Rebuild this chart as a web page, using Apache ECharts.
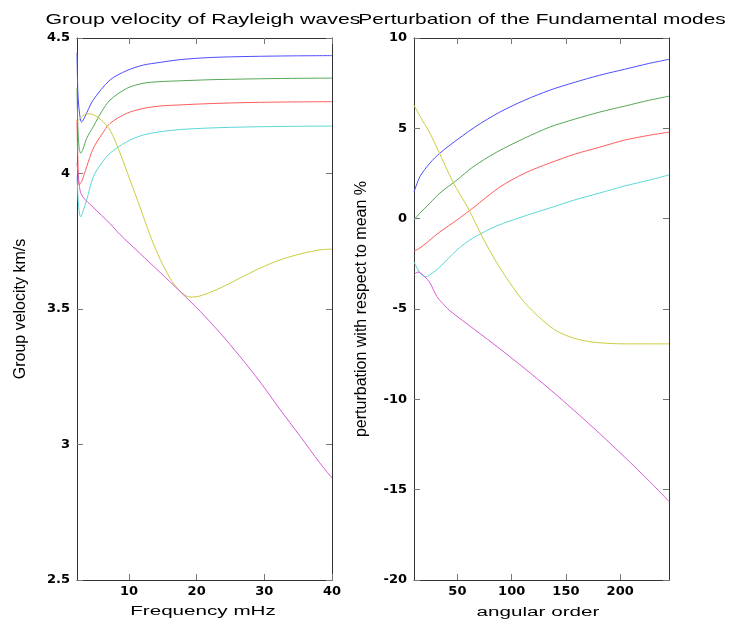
<!DOCTYPE html>
<html>
<head>
<meta charset="utf-8">
<script src="https://cdn.jsdelivr.net/npm/echarts@6/dist/echarts.min.js"></script>
<style>html,body{margin:0;padding:0;background:#fff}#c{width:730px;height:624px}</style>
</head>
<body>
<div id="c"></div>
<script>
// ---------- data ----------
const leftTitle = 'Group velocity of Rayleigh waves';
const rightTitle = 'Perturbation of the Fundamental modes';
const leftXName = 'Frequency mHz';
const leftYName = 'Group velocity km/s';
const rightXName = 'angular order';
const rightYName = 'perturbation with respect to mean %';

const leftXTicks = [10, 20, 30, 40];
const rightXTicks = [50, 100, 150, 200];

// Left panel: [frequency mHz, group velocity km/s]
const gvBlue = [[2.32,4.445],[2.45,4.30],[2.7,4.22],[3.0,4.19],[3.5,4.21],[4.68,4.27],[7.2,4.345],[9.7,4.38],[12.1,4.40],[14.6,4.41],[17.5,4.42],[22,4.428],[28,4.432],[34,4.434],[40,4.435]];
const gvGreen = [[2.32,4.315],[2.45,4.17],[2.65,4.09],[2.87,4.075],[3.2,4.09],[3.75,4.13],[4.73,4.173],[6,4.23],[7.2,4.271],[9.66,4.314],[12.1,4.333],[14.6,4.339],[17.5,4.342],[22,4.346],[28,4.349],[34,4.351],[40,4.352]];
const gvRed = [[2.32,4.197],[2.45,4.05],[2.66,3.958],[3.0,3.97],[3.75,4.025],[4.73,4.093],[6,4.145],[7.2,4.185],[9.66,4.222],[12.1,4.24],[14.6,4.249],[17.5,4.253],[22,4.258],[28,4.262],[34,4.264],[40,4.265]];
const gvCyan = [[2.32,3.99],[2.5,3.90],[2.7,3.85],[2.87,3.84],[3.2,3.86],[3.75,3.902],[4.73,3.988],[6,4.04],[7.2,4.075],[9.66,4.117],[12.1,4.142],[14.6,4.154],[17.5,4.162],[22,4.168],[28,4.172],[34,4.174],[40,4.175]];
const gvYellow = [[2.32,4.19],[3.35,4.216],[4.24,4.22],[5.72,4.201],[7.2,4.16],[8.67,4.076],[10.15,3.976],[11.63,3.876],[13.1,3.773],[14.6,3.684],[16.06,3.614],[17.54,3.566],[19.02,3.544],[20.5,3.548],[23.45,3.577],[26.4,3.614],[29.4,3.651],[32.3,3.681],[35.3,3.703],[38.2,3.718],[40,3.721]];
const gvMagenta = [[2.32,4.04],[2.76,3.939],[3.21,3.913],[4.68,3.876],[7.2,3.815],[8.67,3.775],[11.63,3.705],[14.6,3.635],[17.54,3.565],[20.5,3.492],[23.45,3.412],[26.4,3.325],[29.4,3.23],[32.3,3.13],[35.3,3.03],[38.2,2.932],[40,2.876]];

// Right panel: [angular order, perturbation %]
const ptBlue = [[10,1.47],[15.5,2.33],[24.7,3.08],[33.9,3.63],[43.1,4.07],[66.1,5.07],[89.1,5.90],[112.1,6.56],[135.1,7.11],[158.2,7.55],[181.2,7.94],[204.2,8.27],[227.2,8.60],[245,8.82]];
const ptGreen = [[10,-0.07],[15.5,0.31],[24.7,0.86],[33.9,1.42],[49.6,2.14],[64.3,2.86],[86.4,3.69],[112.1,4.46],[135.1,5.07],[158.2,5.51],[181.2,5.90],[204.2,6.23],[227.2,6.56],[245,6.78]];
const ptRed = [[10,-1.8],[15.5,-1.62],[24.7,-1.18],[33.9,-0.73],[49.6,-0.07],[64.3,0.59],[89.1,1.75],[112.1,2.52],[135.1,3.08],[158.2,3.57],[181.2,3.96],[204.2,4.35],[227.2,4.62],[245,4.79]];
const ptCyan = [[10,-2.39],[15.5,-3.00],[20.1,-3.22],[24.7,-3.11],[33.9,-2.67],[49.6,-1.73],[64.3,-1.07],[86.4,-0.40],[112.1,0.15],[135.1,0.59],[158.2,1.04],[181.2,1.42],[204.2,1.81],[227.2,2.14],[245,2.42]];
const ptYellow = [[10,6.28],[15.5,5.67],[24.7,4.73],[32.1,3.80],[45.9,2.03],[59.7,0.59],[73.5,-1.07],[86.4,-2.45],[98.3,-3.55],[112.1,-4.66],[126,-5.49],[139.7,-6.15],[153.6,-6.54],[167.4,-6.76],[181.2,-6.87],[204.2,-6.93],[227.2,-6.93],[245,-6.93]];
const ptMagenta = [[10,-3.11],[13.7,-2.95],[20.1,-3.22],[24.7,-3.55],[31.2,-4.32],[38.5,-4.82],[43.1,-5.10],[66.1,-6.15],[89.1,-7.20],[112.1,-8.30],[135.1,-9.44],[158.2,-10.65],[181.2,-11.90],[204.2,-13.20],[227.2,-14.55],[245,-15.65]];

const colors = ['#4d4dff', '#55a855', '#ff5c5c', '#5cd8d8', '#cccc40', '#d65cd6'];

// ---------- chart ----------
const chart = echarts.init(document.getElementById('c'), null, {renderer: 'canvas'});

const lineCol = '#333';
const tickCol = '#777';
const labelStyle = {color: '#000', fontFamily: 'DejaVu Sans', fontWeight: 'bold', fontSize: 13};

function xAx(gridIndex, pos, min, max, ticks, showLabel) {
  return {
    type: 'value', gridIndex, position: pos, min, max,
    axisLine: {show: true, onZero: false, lineStyle: {color: lineCol, width: 1}},
    axisTick: {show: true, inside: true, length: 6, customValues: ticks, lineStyle: {color: tickCol}},
    axisLabel: {show: showLabel, customValues: ticks, margin: 5, ...labelStyle},
    splitLine: {show: false}
  };
}
function yAx(gridIndex, pos, min, max, interval, showLabel, name, nameGap) {
  return {
    type: 'value', gridIndex, position: pos, min, max, interval,
    name: name || '', nameLocation: 'middle', nameGap: nameGap || 0, nameRotate: 90,
    nameTextStyle: {color: '#000', fontFamily: 'Liberation Sans', fontSize: 16},
    axisLine: {show: true, onZero: false, lineStyle: {color: lineCol, width: 1}},
    axisTick: {show: true, inside: true, length: 6, lineStyle: {color: tickCol}},
    axisLabel: {show: showLabel, margin: 7, ...labelStyle},
    splitLine: {show: false}
  };
}

function ser(data, color, xi, yi) {
  return {
    type: 'line', data, xAxisIndex: xi, yAxisIndex: yi,
    showSymbol: false, symbol: 'none', smooth: 0.3,
    lineStyle: {color, width: 1}, itemStyle: {color}, animation: false
  };
}

const leftSeries = [gvBlue, gvGreen, gvRed, gvCyan, gvYellow, gvMagenta];
const rightSeries = [ptBlue, ptGreen, ptRed, ptCyan, ptYellow, ptMagenta];

function txt(text, x, y, size, sx) {
  return {
    type: 'text', x, y, scaleX: sx, silent: true,
    style: {text, fill: '#000', font: size + 'px "Liberation Sans", Arial, sans-serif',
            textAlign: 'center', textVerticalAlign: 'middle', align: 'center', verticalAlign: 'middle'}
  };
}

chart.setOption({
  backgroundColor: '#fff',
  animation: false,
  grid: [
    {left: 77, top: 38, width: 255, height: 542},
    {left: 414, top: 38, width: 255, height: 542}
  ],
  xAxis: [
    xAx(0, 'bottom', 2.32, 40, leftXTicks, true),
    xAx(0, 'top', 2.32, 40, leftXTicks, false),
    xAx(1, 'bottom', 10, 245, rightXTicks, true),
    xAx(1, 'top', 10, 245, rightXTicks, false)
  ],
  yAxis: [
    yAx(0, 'left', 2.5, 4.5, 0.5, true, leftYName, 48),
    yAx(0, 'right', 2.5, 4.5, 0.5, false),
    yAx(1, 'left', -20, 10, 5, true, rightYName, 44),
    yAx(1, 'right', -20, 10, 5, false)
  ],
  graphic: [
    txt(leftTitle, 203, 20, 15, 1.42),
    txt(rightTitle, 542, 20, 15, 1.39),
    txt(leftXName, 203, 612, 12, 1.72),
    txt(rightXName, 538, 613, 12, 1.72)
  ],
  series: [
    ...leftSeries.map((d, i) => ser(d, colors[i], 0, 0)),
    ...rightSeries.map((d, i) => ser(d, colors[i], 2, 2))
  ]
});
</script>
</body>
</html>
